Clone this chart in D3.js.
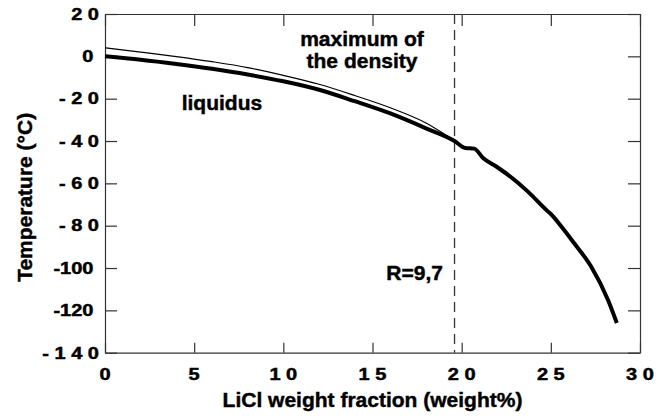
<!DOCTYPE html>
<html><head><meta charset="utf-8">
<script src="https://cdn.jsdelivr.net/npm/d3@7"></script>
<style>
body{margin:0;background:#fff}
svg text{font-family:"Liberation Sans",Arial,Helvetica,sans-serif;font-weight:bold;fill:#000;stroke:#000;stroke-width:0.45px;white-space:pre}
</style>
</head><body>
<svg id="c" width="670" height="417"></svg>
<script>
// ---- data ----
const liquidusX = [0, 2, 4, 6, 8, 10, 12, 14, 16, 18, 19.6, 20.2, 20.7, 21.2, 22, 22.6, 23.7, 24.8, 25, 25.6, 26.3, 27.25, 28.2, 28.7];
const liquidusT = [0, -1.6, -3.6, -5.9, -8.6, -11.8, -15.8, -21.2, -27, -34, -40, -43.3, -43.6, -48, -52.4, -56, -63.8, -73, -74.5, -80.5, -88.2, -99.2, -115, -126];
const densityX = [0, 2, 4, 6, 8, 10, 12, 14, 16, 18, 19.5];
const densityT = [4, 2.0, -0.1, -2.5, -5.3, -9, -13.2, -18.5, -24.3, -31.5, -39.3];
const rLineX = 19.6;               // LiCl fraction at R = 9,7
const xTickValues = [0, 5, 10, 15, 20, 25, 30];
const xTickLabels = ["0", "5", "1 0", "1 5", "2 0", "2 5", "3 0"];
const yTickValues = [-140, -120, -100, -80, -60, -40, -20, 0, 20];
const yTickLabels = ["- 1 4 0", "-120 ", "-100 ", "- 8 0", "- 6 0", "- 4 0", "- 2 0", "0 ", "2 0"];
const xTitle = "LiCl weight fraction (weight%)";
const yTitle = "Temperature (°C)";
const labelDensity = ["maximum of", "the density"];
const labelLiquidus = "liquidus";
const labelR = "R=9,7";

// ---- chart ----
const svg = d3.select("#c");
const x = d3.scaleLinear().domain([0, 30]).range([105, 640]);
const y = d3.scaleLinear().domain([-140, 20]).range([352.7, 14]);
const axisColor = "#333";

function styleAxis(g) {
  g.selectAll("path.domain").attr("stroke", axisColor).attr("stroke-width", 1.2);
  g.selectAll(".tick line").attr("stroke", axisColor).attr("stroke-width", 1.2);
  g.selectAll(".tick text").remove();
}
svg.append("g").attr("transform", `translate(0,${y(-140)})`)
  .call(d3.axisBottom(x).tickValues(xTickValues).tickSizeInner(-10).tickSizeOuter(0).tickFormat(""))
  .call(styleAxis);
svg.append("g").attr("transform", `translate(0,${y(20)})`)
  .call(d3.axisTop(x).tickValues(xTickValues).tickSizeInner(-12).tickSizeOuter(0).tickFormat(""))
  .call(styleAxis);
svg.append("g").attr("transform", `translate(${x(0)},0)`)
  .call(d3.axisLeft(y).tickValues(yTickValues).tickSizeInner(-12).tickSizeOuter(0).tickFormat(""))
  .call(styleAxis);
svg.append("g").attr("transform", `translate(${x(30)},0)`)
  .call(d3.axisRight(y).tickValues(yTickValues).tickSizeInner(-12).tickSizeOuter(0).tickFormat(""))
  .call(styleAxis);

// tick labels (wide bold face)
const stretch = 1.25;
svg.append("g").selectAll("text").data(xTickValues).join("text")
  .attr("text-anchor", "middle")
  .attr("font-size", 16)
  .attr("transform", d => `translate(${x(d)},380) scale(${stretch},1)`)
  .text((d, i) => xTickLabels[i]);
svg.append("g").selectAll("text").data(yTickValues).join("text")
  .attr("text-anchor", "end")
  .attr("font-size", 16)
  .attr("transform", d => `translate(${x(0) - 6},${y(d) + 5.8}) scale(${stretch},1)`)
  .text((d, i) => yTickLabels[i]);

// axis titles
svg.append("text").attr("x", (x(0) + x(30)) / 2).attr("y", 407)
  .attr("text-anchor", "middle").attr("font-size", 21).text(xTitle);
svg.append("text").attr("transform", `translate(31.5,${(y(20) + y(-140)) / 2 + 14}) rotate(-90)`)
  .attr("text-anchor", "middle").attr("font-size", 21).text(yTitle);

// dashed line R = 9,7
svg.append("line")
  .attr("x1", x(rLineX)).attr("x2", x(rLineX))
  .attr("y1", y(20)).attr("y2", y(-140))
  .attr("stroke", axisColor).attr("stroke-width", 1.3)
  .attr("stroke-dasharray", "10,6");

// curves
const line = d3.line().x(d => x(d[0])).y(d => y(d[1])).curve(d3.curveMonotoneX);
svg.append("path")
  .attr("d", line(d3.zip(densityX, densityT)))
  .attr("fill", "none").attr("stroke", "#000").attr("stroke-width", 1.2);
svg.append("path")
  .attr("d", line(d3.zip(liquidusX, liquidusT)))
  .attr("fill", "none").attr("stroke", "#000").attr("stroke-width", 4)
  .attr("stroke-linejoin", "round").attr("stroke-linecap", "butt");

// annotations
svg.append("text").attr("x", x(14.41)).attr("y", y(4.9))
  .attr("text-anchor", "middle").attr("font-size", 21).text(labelDensity[0]);
svg.append("text").attr("x", x(14.41)).attr("y", y(-5.5))
  .attr("text-anchor", "middle").attr("font-size", 21).text(labelDensity[1]);
svg.append("text").attr("x", x(4.3)).attr("y", y(-25.3))
  .attr("font-size", 21).text(labelLiquidus);
svg.append("text").attr("x", x(18.95)).attr("y", y(-105.6))
  .attr("text-anchor", "end").attr("font-size", 21).text(labelR);
</script>
</body></html>
